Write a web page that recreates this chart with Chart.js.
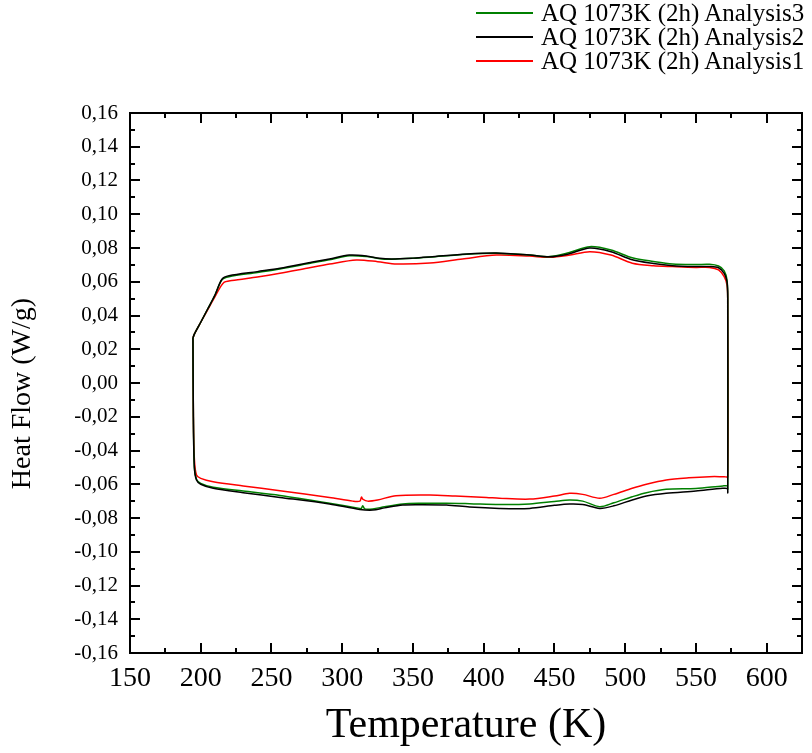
<!DOCTYPE html>
<html lang="en">
<head>
    <meta charset="UTF-8">
    <title>Heat Flow vs Temperature</title>
    <script src="https://cdn.jsdelivr.net/npm/chart.js"></script>
    <style>
        body { margin: 0; background: #fff; font-family: 'Liberation Serif', 'Times New Roman', serif; }
        .wrap { position: relative; width: 812px; height: 753px; }
        .legend { position: absolute; left: 476px; top: 1px; }
        .legend-row { display: flex; align-items: center; height: 24px; font-size: 25px; color: #000; white-space: nowrap; }
        .legend-row span.line { display: inline-block; width: 57px; height: 2px; margin-right: 8px; }
    </style>
</head>
<body>
<div class="wrap">
    <canvas id="dscChart"></canvas>
    <div class="legend" id="legend"></div>
</div>
<script>
// series labels and colours (legend order)
const seriesLabels = ['AQ 1073K (2h) Analysis3', 'AQ 1073K (2h) Analysis2', 'AQ 1073K (2h) Analysis1'];
const seriesColors = ['#008000', '#000000', '#ff0000'];

// Analysis3 - heating branch then cooling branch
const tempTop3 = [194.5, 195.5, 200, 205, 210, 215, 220, 240, 256, 279, 291, 305, 317, 326.5, 335, 350, 362, 388, 409, 432.5, 446.6, 460, 475, 490, 505, 520, 533.5, 550, 559.6, 566, 570, 572, 572.5];
const flowTop3 = [0.0267, 0.029, 0.036, 0.044, 0.052, 0.0612, 0.063, 0.0655, 0.0676, 0.0712, 0.073, 0.0754, 0.075, 0.0737, 0.0734, 0.0739, 0.0746, 0.0763, 0.0769, 0.0758, 0.0749, 0.0772, 0.0808, 0.0788, 0.0742, 0.072, 0.0705, 0.0702, 0.0703, 0.0693, 0.0665, 0.061, 0.050];
const tempBot3 = [572.5, 572.3, 569, 550, 529, 515, 505, 492, 482, 470, 460.7, 450, 432.5, 411, 390, 373.7, 355, 342.8, 330, 321.6, 316, 314.5, 313.5, 312.4, 291, 256, 230, 208.8, 200, 197, 195.5, 194.8, 194.5];
const flowBot3 = [-0.063, -0.061, -0.061, -0.0625, -0.063, -0.065, -0.0674, -0.071, -0.0733, -0.070, -0.0693, -0.0702, -0.0717, -0.072, -0.0715, -0.0712, -0.0713, -0.0717, -0.0733, -0.0746, -0.0746, -0.0728, -0.0744, -0.0743, -0.0712, -0.0666, -0.064, -0.0618, -0.0595, -0.057, -0.050, -0.020, 0.0267];

// Analysis2
const tempTop2 = [194.5, 195.5, 200, 205, 210, 215, 220, 240, 256, 279, 291, 305, 317, 326.5, 335, 350, 362, 388, 409, 432.5, 446.6, 460, 475, 490, 505, 520, 533.5, 550, 559.6, 566, 570, 572, 572.5];
const flowTop2 = [0.0267, 0.029, 0.036, 0.044, 0.052, 0.0615, 0.0635, 0.066, 0.068, 0.0717, 0.0735, 0.0758, 0.0753, 0.0739, 0.0735, 0.074, 0.0747, 0.0764, 0.077, 0.0758, 0.0748, 0.0765, 0.0800, 0.0778, 0.073, 0.0708, 0.0695, 0.069, 0.069, 0.0683, 0.065, 0.060, 0.050];
const tempBot2 = [572.5, 572.3, 569, 550, 529, 515, 505, 492, 482, 470, 460.7, 450, 432.5, 411, 390, 373.7, 355, 342.8, 330, 321.6, 312.4, 291, 256, 230, 208.8, 200, 197, 195.5, 194.8, 194.5];
const flowBot2 = [-0.065, -0.0626, -0.0624, -0.064, -0.0654, -0.067, -0.0693, -0.0728, -0.0743, -0.072, -0.0717, -0.0725, -0.0743, -0.0743, -0.0735, -0.0723, -0.0721, -0.0723, -0.074, -0.0753, -0.0749, -0.0717, -0.0678, -0.065, -0.0624, -0.060, -0.0575, -0.050, -0.020, 0.0267];

// Analysis1
const tempTop1 = [194.5, 195.5, 200, 205, 210, 216, 222, 240, 256, 275, 291, 310, 325, 338.5, 362, 385, 409, 432.5, 446.6, 460, 475, 490, 505, 520, 533.5, 550, 559.6, 566, 570, 572, 572.5];
const flowTop1 = [0.0267, 0.029, 0.036, 0.0435, 0.051, 0.0593, 0.0607, 0.0628, 0.065, 0.068, 0.0705, 0.0729, 0.0719, 0.0705, 0.0711, 0.0735, 0.0758, 0.0752, 0.0745, 0.0757, 0.0778, 0.0758, 0.071, 0.0695, 0.069, 0.0685, 0.0685, 0.067, 0.063, 0.058, 0.050];
const tempBot1 = [572.5, 570, 559.6, 545, 529, 515, 505, 492, 482, 470, 460.7, 450, 432.5, 411, 402, 380, 362, 338, 325, 318, 314.5, 313.6, 312.5, 307.5, 291, 256, 230, 208.8, 200, 197, 195.5, 194.8, 194.5];
const flowBot1 = [-0.0555, -0.0555, -0.0555, -0.0562, -0.0575, -0.060, -0.0624, -0.066, -0.0683, -0.066, -0.0654, -0.067, -0.0688, -0.0683, -0.0678, -0.067, -0.0664, -0.0668, -0.0693, -0.070, -0.0688, -0.0676, -0.0700, -0.070, -0.0678, -0.0638, -0.061, -0.0585, -0.0565, -0.0545, -0.045, -0.020, 0.0267];

// axis ranges
const xMin = 150, xMax = 625, xStep = 50;
const yMin = -0.16, yMax = 0.16, yStep = 0.02;

function loop(tTop, qTop, tBot, qBot) {
    const pts = tTop.map((t, i) => ({x: t, y: qTop[i]}));
    return pts.concat(tBot.map((t, i) => ({x: t, y: qBot[i]})));
}

const loops = [
    loop(tempTop3, flowTop3, tempBot3, flowBot3),
    loop(tempTop2, flowTop2, tempBot2, flowBot2),
    loop(tempTop1, flowTop1, tempBot1, flowBot1)
];
const drawOrder = [1, 0, 2]; // black on top

// html legend
const legendEl = document.getElementById('legend');
seriesLabels.forEach((lab, i) => {
    const row = document.createElement('div');
    row.className = 'legend-row';
    const line = document.createElement('span');
    line.className = 'line';
    line.style.backgroundColor = seriesColors[i];
    row.appendChild(line);
    row.appendChild(document.createTextNode(lab));
    legendEl.appendChild(row);
});

// frame + inward ticks on all four sides
const frameTicks = {
    id: 'frameTicks',
    afterDatasetsDraw(chart) {
        const {ctx, chartArea: a, scales: {x, y}} = chart;
        ctx.save();
        ctx.strokeStyle = '#000';
        ctx.lineWidth = 2;
        ctx.beginPath();
        const xs = x.ticks.map(t => t.value);
        xs.forEach(v => {
            [[v, 10], [v + xStep / 2, 5]].forEach(([val, len]) => {
                if (val > xMax) return;
                const px = Math.round(x.getPixelForValue(val));
                ctx.moveTo(px, a.bottom); ctx.lineTo(px, a.bottom - len);
                ctx.moveTo(px, a.top); ctx.lineTo(px, a.top + len);
            });
        });
        const ys = y.ticks.map(t => t.value);
        ys.forEach(v => {
            [[v, 10], [v + yStep / 2, 5]].forEach(([val, len]) => {
                if (val > yMax + 1e-9) return;
                const py = Math.round(y.getPixelForValue(val));
                ctx.moveTo(a.left, py); ctx.lineTo(a.left + len, py);
                ctx.moveTo(a.right, py); ctx.lineTo(a.right - len, py);
            });
        });
        ctx.stroke();
        ctx.strokeRect(a.left, a.top, a.right - a.left, a.bottom - a.top);
        ctx.restore();
    }
};

new Chart(document.getElementById('dscChart'), {
    type: 'scatter',
    data: {
        datasets: loops.map((pts, i) => ({
            label: seriesLabels[i],
            data: pts,
            showLine: true,
            borderColor: seriesColors[i],
            borderWidth: 1.5,
            pointRadius: 0,
            tension: 0.3,
            order: drawOrder[i]
        }))
    },
    options: {
        responsive: true,
        maintainAspectRatio: false,
        animation: false,
        layout: { padding: { top: 113, right: 10, left: 0, bottom: 0 } },
        plugins: { legend: { display: false }, tooltip: { enabled: false } },
        scales: {
            x: {
                type: 'linear',
                min: xMin, max: xMax,
                grid: { display: false, drawTicks: false },
                border: { display: false },
                ticks: {
                    stepSize: xStep, includeBounds: false, padding: 9,
                    color: '#000', font: { family: 'Liberation Serif', size: 28 }
                },
                title: {
                    display: true, text: 'Temperature (K)', color: '#000',
                    font: { family: 'Liberation Serif', size: 42 },
                    padding: { top: 0, bottom: 2 }
                },
                afterFit: s => { s.height = 100; }
            },
            y: {
                min: yMin, max: yMax,
                grid: { display: false, drawTicks: false },
                border: { display: false },
                ticks: {
                    stepSize: yStep, padding: 12, color: '#000',
                    font: { family: 'Liberation Serif', size: 21 },
                    callback: v => (Math.abs(v) < 1e-9 ? 0 : v).toFixed(2).replace('.', ',')
                },
                title: {
                    display: true, text: 'Heat Flow (W/g)\u00A0\u00A0\u00A0', color: '#000',
                    font: { family: 'Liberation Serif', size: 28 },
                    padding: { top: 6, bottom: 0 }
                },
                afterFit: s => { s.width = 130; }
            }
        }
    },
    plugins: [frameTicks]
});
</script>
</body>
</html>
